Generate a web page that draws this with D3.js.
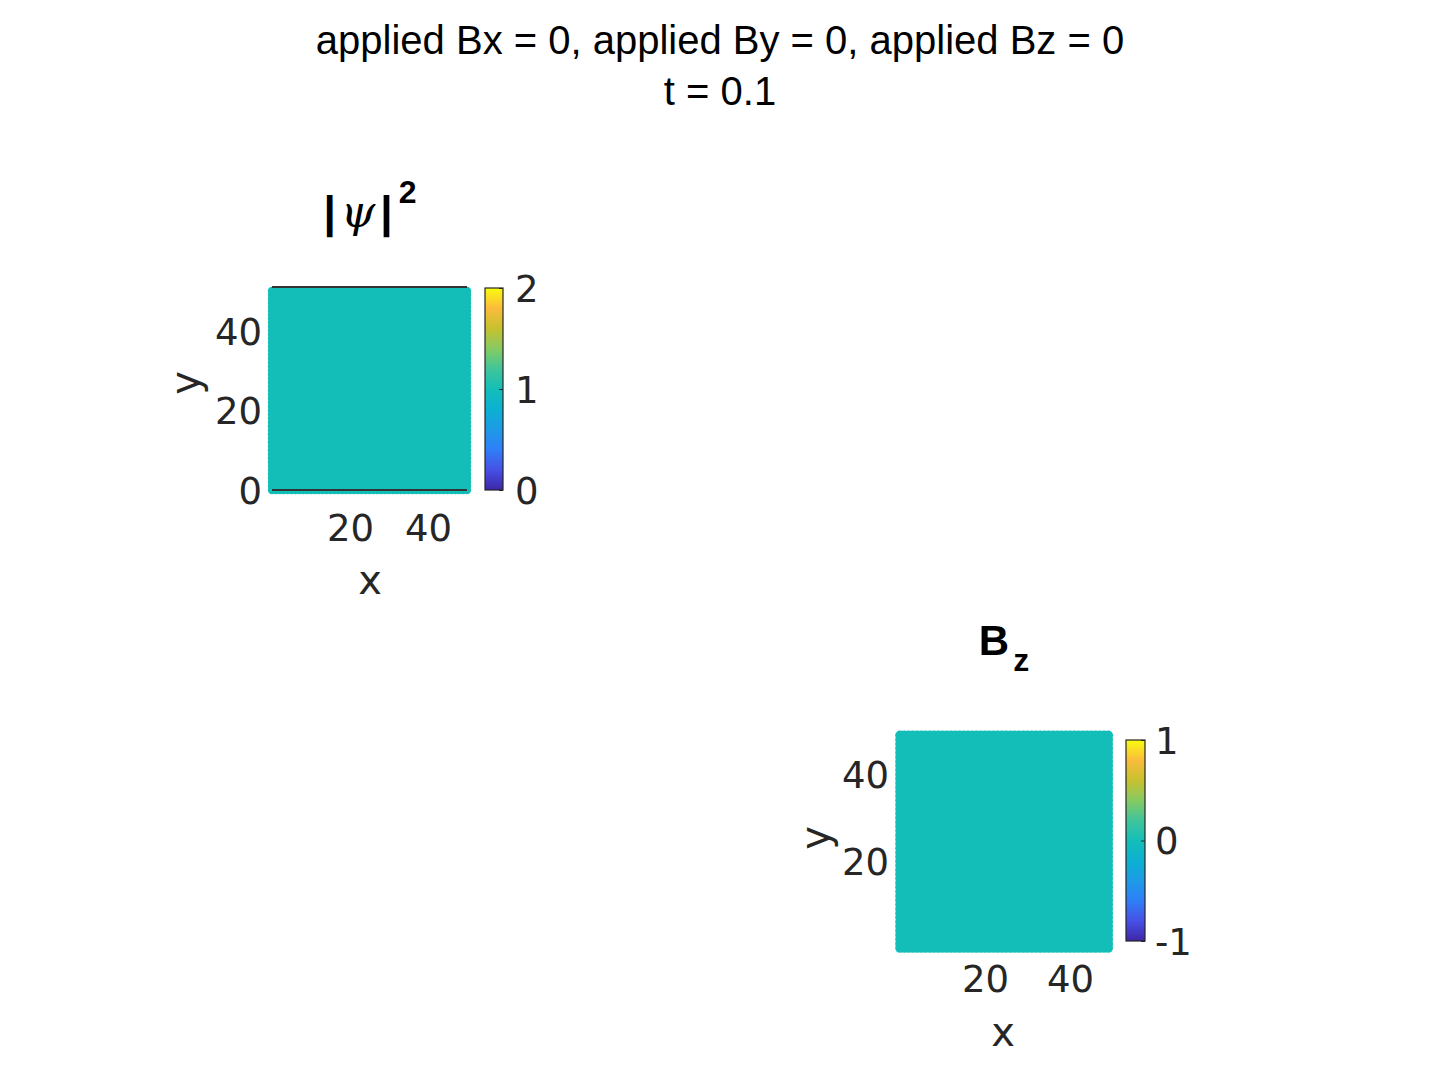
<!DOCTYPE html>
<html><head><meta charset="utf-8">
<script src="https://cdn.jsdelivr.net/npm/d3@7"></script>
<style>
body{margin:0;background:#fff;}
svg text{fill:#262626;}
</style></head>
<body>
<svg id="chart" width="1440" height="1080"></svg>
<script>
// ---- data ----
const titleLines = ["applied Bx = 0, applied By = 0, applied Bz = 0", "t = 0.1"];
const psiGrid = [0,1,2,3,4,5,6,7,8,9,10,11,12,13,14,15,16,17,18,19,20,21,22,23,24,25,26,27,28,29,30,31,32,33,34,35,36,37,38,39,40,41,42,43,44,45,46,47,48,49,50];
const bzGrid  = [0,1,2,3,4,5,6,7,8,9,10,11,12,13,14,15,16,17,18,19,20,21,22,23,24,25,26,27,28,29,30,31,32,33,34,35,36,37,38,39,40,41,42,43,44,45,46,47,48,49];
const psiValue = 1;   // |psi|^2 uniform
const bzValue = 0;    // Bz uniform
const psiXTicks = [20, 40];
const psiYTicks = [0, 20, 40];
const psiCbarTicks = [0, 1, 2];
const bzXTicks = [20, 40];
const bzYTicks = [20, 40];
const bzCbarTicks = [-1, 0, 1];
// parula colormap stops
const parulaOffsets = [0, 0.1, 0.2, 0.3, 0.4, 0.5, 0.6, 0.7, 0.8, 0.9, 1];
const parulaStops = ["#3e26a8","#4750e6","#2f7ff8","#1d9be6","#0cb0d2","#14beb8","#40c59a","#86ca62","#c8c12e","#fbbc3c","#f9fb0e"];

const svg = d3.select("#chart");
const parula = d3.scaleLinear().domain(parulaOffsets).range(parulaStops).interpolate(d3.interpolateRgb);

// main title
svg.selectAll("text.mt").data(titleLines).join("text")
  .attr("class","mt").attr("x",720).attr("y",(d,i)=>54+i*51)
  .attr("text-anchor","middle").style("font-family","'Liberation Sans', Arial, sans-serif")
  .style("font-size","40px").style("fill","#000").text(d=>d);

const tickFont = "'DejaVu Sans', Verdana, sans-serif";
const tickSize = "37px";

function panel(cfg){
  const g = svg.append("g");
  const x = d3.scaleLinear().domain(cfg.xDom).range(cfg.xRange);
  const y = d3.scaleLinear().domain(cfg.yDom).range(cfg.yRange);
  const color = d3.scaleLinear().domain(cfg.cDom).range([0,1]);
  const pts = [];
  cfg.grid.forEach(gx => cfg.grid.forEach(gy => pts.push({x:gx, y:gy, v:cfg.value})));
  if (cfg.boxBelow) drawBox();
  g.append("g").selectAll("circle").data(pts).join("circle")
    .attr("cx", d=>x(d.x)).attr("cy", d=>y(d.y)).attr("r", cfg.r)
    .attr("fill", d=>parula(color(d.v)));
  if (!cfg.boxBelow) drawBox();
  function drawBox(){
    if (!cfg.showBox) return;
    g.append("line").attr("x1",x(cfg.xDom[0])).attr("x2",x(cfg.xDom[1])).attr("y1",y(cfg.yDom[1])).attr("y2",y(cfg.yDom[1])).attr("stroke","#333").attr("stroke-width",2);
    g.append("line").attr("x1",x(cfg.xDom[0])).attr("x2",x(cfg.xDom[1])).attr("y1",y(cfg.yDom[0])).attr("y2",y(cfg.yDom[0])).attr("stroke","#333").attr("stroke-width",2);
  }
  // axes
  const xa = g.append("g").attr("transform",`translate(0,${cfg.xTickY})`)
    .call(d3.axisBottom(x).tickValues(cfg.xTicks).tickSize(0).tickPadding(0).tickFormat(d3.format("d")));
  xa.select(".domain").remove();
  xa.selectAll("text").style("font-family",tickFont).style("font-size",tickSize).attr("dy","0.36em").attr("y",0).style("fill","#262626");
  const ya = g.append("g").attr("transform",`translate(${cfg.yTickX},0)`)
    .call(d3.axisLeft(y).tickValues(cfg.yTicks).tickSize(0).tickPadding(0).tickFormat(d3.format("d")));
  ya.select(".domain").remove();
  ya.selectAll("text").style("font-family",tickFont).style("font-size",tickSize).attr("dy","0.36em").attr("x",0).style("fill","#262626");
  // axis labels
  g.append("text").attr("x",cfg.xLabel[0]).attr("y",cfg.xLabel[1]).attr("text-anchor","middle").attr("dy","0.35em")
    .style("font-family",tickFont).style("font-size","40px").text("x");
  g.append("text").attr("transform",`translate(${cfg.yLabel[0]},${cfg.yLabel[1]}) rotate(-90)`).attr("text-anchor","middle").attr("dy","0.35em")
    .style("font-family",tickFont).style("font-size","40px").text("y");
  // colorbar
  const cb = cfg.cbar;
  const cy = d3.scaleLinear().domain(cfg.cDom).range([cb.y1, cb.y0]);
  const gradId = "grad"+cfg.id;
  const grad = svg.append("defs").append("linearGradient").attr("id",gradId).attr("x1",0).attr("x2",0).attr("y1",1).attr("y2",0);
  grad.selectAll("stop").data(parulaStops).join("stop")
    .attr("offset",(d,i)=>parulaOffsets[i]).attr("stop-color",d=>d);
  g.append("rect").attr("x",cb.x0).attr("y",cb.y0).attr("width",cb.x1-cb.x0).attr("height",cb.y1-cb.y0)
    .attr("fill",`url(#${gradId})`).attr("stroke","#262626").attr("stroke-width",1.2);
  const ca = g.append("g").attr("transform",`translate(${cb.x1},0)`)
    .call(d3.axisRight(cy).tickValues(cfg.cTicks).tickSize(-4).tickPadding(0).tickFormat(d3.format("d")));
  ca.select(".domain").remove();
  ca.selectAll("line").attr("stroke","#262626");
  ca.selectAll("text").style("font-family",tickFont).style("font-size",tickSize).attr("dy","0.36em").attr("x",cb.labelDx).style("fill","#262626").text(d=>d<0?"-"+Math.abs(d):d);
  return g;
}

panel({id:"psi", grid:psiGrid, value:psiValue, xDom:[0,50], xRange:[272,467], yDom:[0,51], yRange:[490,287], r:4.2,
  cDom:[0,2], xTicks:psiXTicks, yTicks:psiYTicks, cTicks:psiCbarTicks, showBox:true, boxBelow:false,
  xTickY:528, yTickX:262, xLabel:[370,580], yLabel:[185,383],
  cbar:{x0:485, x1:503, y0:288, y1:490, labelDx:12}});

panel({id:"bz", grid:bzGrid, value:bzValue, xDom:[0,50], xRange:[900,1112.5], yDom:[0,50], yRange:[948,731], r:4.8,
  cDom:[-1,1], xTicks:bzXTicks, yTicks:bzYTicks, cTicks:bzCbarTicks, showBox:false, boxBelow:true,
  xTickY:979, yTickX:889, xLabel:[1003,1032], yLabel:[815,838],
  cbar:{x0:1126, x1:1145, y0:740, y1:941, labelDx:10}});

// subplot titles
const t1 = svg.append("text").attr("x",370).attr("y",227).attr("text-anchor","middle")
  .style("font-family","'Liberation Sans', Arial, sans-serif").style("font-size","44px").style("font-weight","bold").style("fill","#000");
t1.append("tspan").text("|");
t1.append("tspan").style("font-family","'DejaVu Serif', 'Liberation Serif', serif").style("font-style","italic").style("font-weight","normal").attr("dx",5).text("ψ");
t1.append("tspan").attr("dx",5).text("|");
t1.append("tspan").style("font-size","32px").attr("dx",6).attr("dy",-24).text("2");

const t2 = svg.append("text").attr("x",1004).attr("y",655).attr("text-anchor","middle")
  .style("font-family","'Liberation Sans', Arial, sans-serif").style("font-size","42px").style("font-weight","bold").style("fill","#000");
t2.append("tspan").text("B");
t2.append("tspan").style("font-size","32px").attr("dx",4).attr("dy",16).text("z");
</script>
</body></html>
